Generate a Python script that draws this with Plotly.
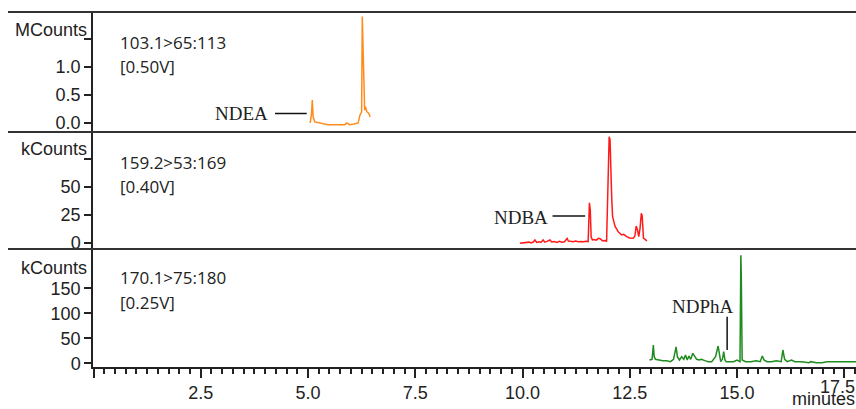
import plotly.graph_objects as go

# ---------------- data ----------------
ndea_time = [5.05, 5.08, 5.10, 5.12, 5.16, 5.22, 5.28, 5.37, 5.47, 5.57, 5.67, 5.77, 5.86, 5.90, 5.97,
             6.07, 6.17, 6.21, 6.25, 6.265, 6.275, 6.29, 6.30, 6.31, 6.32, 6.34, 6.37, 6.41, 6.45]
ndea_mcounts = [0.0, 0.15, 0.41, 0.10, 0.02, 0.01, 0.0, -0.02, -0.03, -0.03, -0.03, -0.02, -0.03, 0.0, -0.03,
                -0.02, 0.0, 0.14, 0.20, 1.90, 1.54, 1.50, 0.62, 0.55, 0.23, 0.29, 0.20, 0.18, 0.11]

ndba_time = [9.94, 10.00, 10.05, 10.10, 10.15, 10.20, 10.25, 10.29, 10.33, 10.38, 10.43, 10.48, 10.52, 10.57,
             10.64, 10.68, 10.74, 10.80, 10.86, 10.92, 10.98, 11.04, 11.07, 11.12, 11.18, 11.24, 11.30, 11.36,
             11.42, 11.48, 11.53, 11.56, 11.58, 11.60, 11.63, 11.67, 11.72, 11.77, 11.81, 11.86, 11.92, 11.96,
             11.99, 12.02, 12.04, 12.06, 12.08, 12.10, 12.13, 12.16, 12.20, 12.23, 12.27, 12.31, 12.36, 12.43,
             12.50, 12.58, 12.62, 12.65, 12.68, 12.71, 12.74, 12.77, 12.79, 12.82, 12.86, 12.90]
ndba_kcounts = [-0.5, -0.3, 0.2, -0.2, 0.5, -0.3, 0.6, 2.4, 0.3, 0.8, 0.2, 2.4, 0.5, 1.2,
                2.4, 0.6, 1.0, 0.3, 1.3, 0.5, 0.9, 3.9, 1.5, 1.2, 0.8, 1.4, 0.9, 1.1,
                0.8, 1.3, 1.0, 35.7, 29.2, 5.0, 2.5, 2.8, 2.3, 3.9, 3.5, 1.8, 2.0, 1.0,
                38.1, 94.6, 92.0, 54.5, 40.0, 23.2, 18.0, 14.3, 12.0, 9.8, 8.5, 6.9, 7.5, 5.4,
                4.2, 3.9, 6.0, 14.9, 11.3, 5.4, 13.0, 26.2, 24.0, 3.9, 3.0, 1.5]

ndpha_time = [12.96, 13.02, 13.05, 13.07, 13.10, 13.18, 13.27, 13.36, 13.45, 13.52, 13.58, 13.61, 13.66,
              13.71, 13.76, 13.80, 13.84, 13.88, 13.92, 13.97, 14.02, 14.06, 14.12, 14.17, 14.25, 14.33,
              14.41, 14.50, 14.56, 14.59, 14.62, 14.66, 14.69, 14.72, 14.75, 14.82, 14.92, 15.00, 15.07,
              15.09, 15.10, 15.12, 15.20, 15.32, 15.45, 15.54, 15.59, 15.63, 15.70, 15.80, 15.92, 16.03,
              16.07, 16.11, 16.17, 16.27, 16.35, 16.50, 16.68, 16.72, 16.85, 16.98, 17.10, 17.30, 17.50, 17.78]
ndpha_kcounts = [6.6, 8.0, 36.6, 13.2, 8.0, 6.6, 5.3, 5.3, 3.3, 8.0, 33.0, 13.2, 6.6,
                 13.2, 8.0, 16.6, 6.6, 14.6, 8.0, 20.0, 13.2, 8.0, 6.6, 8.0, 5.3, 3.3,
                 3.3, 13.2, 34.6, 16.6, 3.3, 8.0, 23.3, 6.6, 3.3, 3.3, 3.3, 6.6, 3.3,
                 216.0, 176.0, 6.6, 3.3, 3.3, 5.3, 3.3, 14.6, 6.6, 3.3, 3.3, 5.3, 3.3,
                 26.6, 8.0, 3.3, 6.6, 3.3, 3.3, 1.2, 3.3, 1.2, 1.2, 3.3, 3.3, 3.3, 3.3]

x_tick_vals = [0, 2.5, 5.0, 7.5, 10.0, 12.5, 15.0, 17.5]
x_tick_text = ["", "2.5", "5.0", "7.5", "10.0", "12.5", "15.0", ""]
x_edge_label = "17.5"   # last tick label, drawn flush with the right edge

top_tick_vals = [0, 0.5, 1.0, 1.5]
top_tick_text = ["0.0", "0.5", "1.0", ""]
mid_tick_vals = [0, 25, 50, 75]
mid_tick_text = ["0", "25", "50", ""]
bot_tick_vals = [0, 50, 100, 150]
bot_tick_text = ["0", "50", "100", "150"]

channel_labels = [["103.1>65:113", "[0.50V]"], ["159.2>53:169", "[0.40V]"], ["170.1>75:180", "[0.25V]"]]
unit_labels = ["MCounts", "kCounts", "kCounts"]
compound_names = ["NDEA", "NDBA", "NDPhA"]

# ---------------- layout geometry ----------------
W, H = 856, 409
ML, MR, MT, MB = 93, 0, 12, 42
PW, PH = W - ML - MR, H - MT - MB


def py(p):  # window pixel y -> paper y
    return (H - MB - p) / PH


def px(p):  # window pixel x -> paper x
    return (p - ML) / PW


dom_top = [py(132), 1.0]
dom_mid = [py(249), py(132)]
dom_bot = [0.0, py(249)]

tickfont = dict(family="Liberation Sans, Arial, sans-serif", size=18, color="#222")
labfont = dict(family="Open Sans, sans-serif", size=17, color="#222")
serif = dict(family="Liberation Serif, Times New Roman, serif", size=19, color="#222")
axcol = "#222"

fig = go.Figure()
fig.add_trace(go.Scatter(x=ndpha_time, y=ndpha_kcounts, mode="lines", xaxis="x", yaxis="y",
                         line=dict(color="#1e8c1e", width=1.5), hoverinfo="skip"))
fig.add_trace(go.Scatter(x=ndba_time, y=ndba_kcounts, mode="lines", xaxis="x", yaxis="y2",
                         line=dict(color="#ff1a1a", width=1.5), hoverinfo="skip"))
fig.add_trace(go.Scatter(x=ndea_time, y=ndea_mcounts, mode="lines", xaxis="x", yaxis="y3",
                         line=dict(color="#ff8c1a", width=1.5), hoverinfo="skip"))

yax = dict(showline=True, linecolor=axcol, linewidth=1.5, ticks="outside", ticklen=7, tickwidth=1.5,
           tickcolor=axcol, tickfont=tickfont, showgrid=False, zeroline=False, anchor="x",
           fixedrange=True, tickmode="array")

fig.update_layout(
    width=W, height=H, margin=dict(l=ML, r=MR, t=MT, b=MB),
    paper_bgcolor="white", plot_bgcolor="white", showlegend=False,
    xaxis=dict(range=[-0.012, 17.774], showline=True, linecolor=axcol, linewidth=1.5,
               ticks="outside", ticklen=9, tickwidth=1.5, tickcolor=axcol,
               tickmode="array", tickvals=x_tick_vals, ticktext=x_tick_text, tickfont=tickfont,
               minor=dict(tickmode="linear", tick0=0, dtick=0.25, ticks="outside", ticklen=5,
                          tickwidth=1.5, tickcolor=axcol, showgrid=False),
               showgrid=False, zeroline=False, anchor="y", fixedrange=True),
    yaxis=dict(yax, domain=dom_bot, range=[-7.4, 228.6], tickvals=bot_tick_vals, ticktext=bot_tick_text),
    yaxis2=dict(yax, domain=dom_mid, range=[-5.63, 98.85], tickvals=mid_tick_vals, ticktext=mid_tick_text),
    yaxis3=dict(yax, domain=dom_top, range=[-0.161, 1.982], tickvals=top_tick_vals, ticktext=top_tick_text),
)

# panel separator lines
for yp in [1.0, py(132), py(249)]:
    fig.add_shape(type="line", xref="paper", yref="paper", x0=px(8), x1=1.0, y0=yp, y1=yp,
                  line=dict(color="#333", width=2))

# unit labels
for lab, ypix in zip(unit_labels, [30, 149, 268]):
    fig.add_annotation(text=lab, xref="paper", yref="paper", x=px(89), y=py(ypix),
                       xanchor="right", yanchor="middle", showarrow=False, font=tickfont)

# channel labels
for (l1, l2), (y1, y2) in zip(channel_labels, [(42.7, 66.7), (162.7, 186.7), (277.3, 302)]):
    fig.add_annotation(text=l1, xref="paper", yref="paper", x=px(118), y=py(y1),
                       xanchor="left", yanchor="middle", showarrow=False, font=labfont)
    fig.add_annotation(text=l2, xref="paper", yref="paper", x=px(118), y=py(y2),
                       xanchor="left", yanchor="middle", showarrow=False, font=labfont)

# compound labels with leader lines
fig.add_annotation(text=compound_names[0], xref="x", yref="y3", x=3.45, y=0.17,
                   showarrow=False, font=serif, xanchor="center", yanchor="middle")
fig.add_shape(type="line", xref="x", yref="y3", x0=4.23, x1=4.97, y0=0.17, y1=0.17,
              line=dict(color="#111", width=1.5))
fig.add_annotation(text=compound_names[1], xref="x", yref="y2", x=9.96, y=22.7,
                   showarrow=False, font=serif, xanchor="center", yanchor="middle")
fig.add_shape(type="line", xref="x", yref="y2", x0=10.70, x1=11.46, y0=23.8, y1=23.8,
              line=dict(color="#111", width=1.5))
fig.add_annotation(text=compound_names[2], xref="x", yref="y", x=14.21, y=113,
                   showarrow=False, font=serif, xanchor="center", yanchor="middle")
fig.add_shape(type="line", xref="x", yref="y", x0=14.77, x1=14.77, y0=93, y1=26.6,
              line=dict(color="#111", width=1.5))

# last x tick label, kept inside the right edge
fig.add_annotation(text=x_edge_label, xref="paper", yref="paper", x=1.0, y=py(376),
                   xanchor="right", yanchor="top", showarrow=False, font=tickfont,
                   borderpad=0)

# x axis title
fig.add_annotation(text="minutes", xref="paper", yref="paper", x=1.0, y=py(410),
                   xanchor="right", yanchor="bottom", showarrow=False, font=tickfont,
                   borderpad=0)

fig.write_html(
    "out.html",
    config={"displayModeBar": False},
    post_script="document.body.style.margin='0';document.body.style.overflow='hidden';",
)
